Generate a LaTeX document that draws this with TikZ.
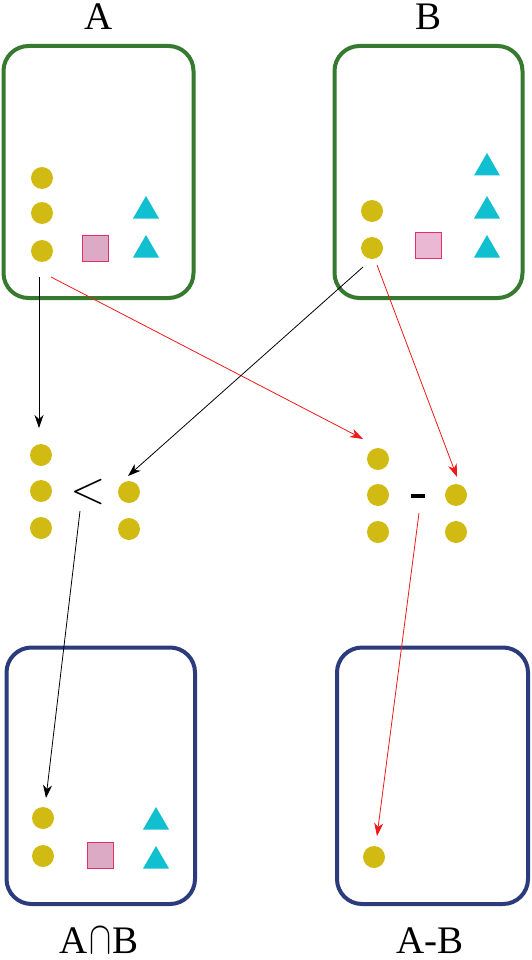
\documentclass[tikz,border=0pt]{standalone}
\usepackage{fix-cm}
\usepackage{fontspec}
\setmainfont{Liberation Serif}
\usetikzlibrary{shapes.geometric,arrows.meta}
\definecolor{setgreen}{HTML}{357A2E}
\definecolor{setnavy}{HTML}{2B3B7B}
\definecolor{dotyel}{HTML}{D1BB12}
\definecolor{tricyan}{HTML}{10C0D0}
\definecolor{sqfill}{HTML}{DCAAC4}
\definecolor{sqfillB}{HTML}{EAB8D2}
\definecolor{sqedge}{HTML}{E0306A}
\definecolor{arrred}{HTML}{F01818}
\begin{document}
\begin{tikzpicture}[x=1pt,y=-1pt,
  setbox/.style={draw=#1,line width=4pt,rounded corners=25pt,inner sep=0pt},
  dot/.style={circle,fill=dotyel,inner sep=0pt,minimum size=22pt},
  sqr/.style={rectangle,fill=#1,draw=sqedge,line width=1pt,inner sep=0pt,minimum size=26pt},
  tri/.style={regular polygon,regular polygon sides=3,fill=tricyan,inner sep=0pt,minimum size=30pt},
  lbl/.style={font=\fontsize{39}{39}\selectfont,inner sep=0pt,anchor=base},
  blk/.style={-{Stealth[length=13pt,width=9pt,inset=4pt]},line width=0.8pt,black},
  redarr/.style={-{Stealth[length=13pt,width=9pt,inset=4pt]},line width=0.8pt,arrred}]
\useasboundingbox (0,0) rectangle (531,960);
% set boxes
\node[setbox=setgreen,minimum width=190pt,minimum height=252pt] (boxA) at (98.5,172) {};
\node[setbox=setgreen,minimum width=188pt,minimum height=252pt] (boxB) at (428.5,172) {};
\node[setbox=setnavy,minimum width=188.5pt,minimum height=256.5pt] (boxI) at (100.75,775.75) {};
\node[setbox=setnavy,minimum width=191pt,minimum height=256.5pt] (boxD) at (432.5,775.75) {};
% labels
\node[lbl] (labA) at (99,30) {A};
\node[lbl] (labB) at (428,30) {B};
\node[lbl] (labI) at (99,953) {A\kern1pt\scalebox{0.85}[1.18]{$\cap$}\kern1ptB};
\node[lbl] (labD) at (430,953) {A-B};
% set A contents
\node[dot] (a1) at (42,178) {};
\node[dot] (a2) at (42,213) {};
\node[dot] (a3) at (42,251) {};
\node[sqr=sqfill] (asq) at (95,248) {};
\node[tri] (at1) at (146,211) {};
\node[tri] (at2) at (146,250) {};
% set B contents
\node[dot] (b1) at (372,211) {};
\node[dot] (b2) at (372,248) {};
\node[sqr=sqfillB] (bsq) at (428,245) {};
\node[tri] (bt1) at (487,168) {};
\node[tri] (bt2) at (487,211) {};
\node[tri] (bt3) at (487,250) {};
% middle left: comparison
\node[dot] (l1) at (41,455) {};
\node[dot] (l2) at (41,491) {};
\node[dot] (l3) at (41,528) {};
\node[font=\fontsize{46}{46}\selectfont,inner sep=0pt] (lt) at (88,492) {$<$};
\node[dot] (r1) at (129,492) {};
\node[dot] (r2) at (129,529) {};
% middle right: difference
\node[dot] (m1) at (378,459) {};
\node[dot] (m2) at (378,495) {};
\node[dot] (m3) at (378,532) {};
\node[fill=black,inner sep=0pt,minimum width=14pt,minimum height=4pt] (minus) at (418,496) {};
\node[dot] (n1) at (456,495) {};
\node[dot] (n2) at (456,532) {};
% intersection contents
\node[dot] (i1) at (43,818) {};
\node[dot] (i2) at (43,856) {};
\node[sqr=sqfill] (isq) at (100,855) {};
\node[tri] (it1) at (156,822) {};
\node[tri] (it2) at (156,861) {};
% difference contents
\node[dot] (d1) at (374,857) {};
% arrow endpoints
\coordinate (s1) at (39,277);
\coordinate (e1) at (39,428);
\coordinate (s2) at (51,277);
\coordinate (e2) at (363,439);
\coordinate (s3) at (363,267);
\coordinate (e3) at (128,476);
\coordinate (s4) at (377,265);
\coordinate (e4) at (457,477);
\coordinate (s5) at (80,511);
\coordinate (e5) at (46,798);
\coordinate (s6) at (419,513);
\coordinate (e6) at (377,836);
\draw[blk] (s1) -- (e1);
\draw[redarr] (s2) -- (e2);
\draw[blk] (s3) -- (e3);
\draw[redarr] (s4) -- (e4);
\draw[blk] (s5) -- (e5);
\draw[redarr] (s6) -- (e6);
\end{tikzpicture}
\end{document}
